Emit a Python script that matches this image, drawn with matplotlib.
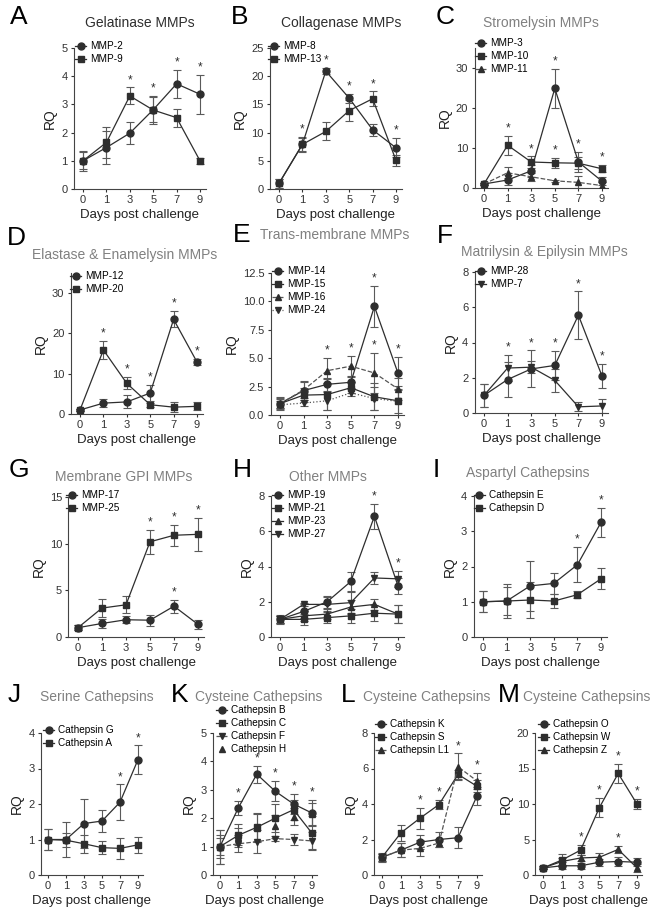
import matplotlib
matplotlib.use('Agg')
import matplotlib.pyplot as plt

plt.rcParams['font.family'] = ['Liberation Sans', 'DejaVu Sans']

days = ['0', '1', '3', '5', '7', '9']

# A - Gelatinase
a_mmp2 = [1.0, 1.47, 1.98, 2.81, 3.73, 3.36]
a_mmp2_err = [0.35, 0.57, 0.4, 0.45, 0.5, 0.7]
a_mmp2_star = [7, 9]
a_mmp9 = [1.0, 1.65, 3.3, 2.8, 2.53, 1.0]
a_mmp9_err = [0.3, 0.55, 0.3, 0.5, 0.32, 0.1]
a_mmp9_star = [3, 5]

# B - Collagenase
b_mmp8 = [1.0, 7.9, 20.9, 16.1, 10.5, 7.3]
b_mmp8_err = [0.8, 1.3, 0.5, 0.8, 1.1, 1.7]
b_mmp8_star = [1, 3, 5, 9]
b_mmp13 = [1.0, 7.9, 10.2, 13.9, 16.0, 5.1]
b_mmp13_err = [0.8, 1.2, 1.6, 1.8, 1.3, 1.0]
b_mmp13_star = [7]

# C - Stromelysin
c_mmp3 = [1.0, 2.0, 4.3, 24.9, 6.5, 1.7]
c_mmp3_err = [0.3, 1.2, 1.5, 4.9, 2.5, 1.0]
c_mmp3_star = [5, 7]
c_mmp10 = [1.0, 10.7, 6.5, 6.3, 6.2, 4.8]
c_mmp10_err = [0.3, 2.4, 1.4, 1.3, 1.5, 0.9]
c_mmp10_star = [1, 3, 5, 9]
c_mmp11 = [1.0, 3.8, 2.8, 1.8, 1.4, 0.6]
c_mmp11_err = [0.3, 1.4, 1.0, 0.3, 1.5, 0.8]

# D - Elastase & Enamelysin
d_mmp12 = [1.0, 2.7, 3.0, 5.2, 23.5, 12.9]
d_mmp12_err = [0.3, 1.0, 1.6, 2.0, 2.0, 0.8]
d_mmp12_star = [5, 7, 9]
d_mmp20 = [1.0, 15.9, 7.6, 2.3, 1.7, 1.9]
d_mmp20_err = [0.3, 2.3, 1.5, 0.5, 1.2, 1.0]
d_mmp20_star = [1, 3]

# E - Trans-membrane
e_mmp14 = [1.0, 2.15, 2.7, 2.88, 9.56, 3.68]
e_mmp14_err = [0.5, 0.8, 0.6, 0.5, 1.8, 1.4]
e_mmp14_star = [7, 9]
e_mmp15 = [1.0, 1.75, 1.8, 2.4, 1.6, 1.25]
e_mmp15_err = [0.6, 0.6, 1.4, 0.5, 1.2, 1.3]
e_mmp16 = [1.0, 2.2, 3.9, 4.3, 3.7, 2.3]
e_mmp16_err = [0.4, 0.7, 1.1, 0.9, 1.8, 1.0]
e_mmp16_star = [3, 5, 7]
e_mmp24 = [0.9, 1.05, 1.25, 1.95, 1.45, 1.2]
e_mmp24_err = [0.3, 0.3, 0.8, 0.3, 1.0, 1.0]

# F - Matrilysin & Epilysin
f_mmp28 = [1.0, 1.9, 2.5, 2.7, 5.55, 2.1]
f_mmp28_err = [0.65, 1.0, 1.05, 0.8, 1.35, 0.7]
f_mmp28_star = [3, 5, 7, 9]
f_mmp7 = [1.0, 2.55, 2.6, 1.85, 0.35, 0.4]
f_mmp7_err = [0.65, 0.75, 0.35, 0.65, 0.25, 0.4]
f_mmp7_star = [1]

# G - Membrane GPI
g_mmp17 = [1.0, 1.45, 1.85, 1.8, 3.3, 1.35]
g_mmp17_err = [0.3, 0.5, 0.4, 0.6, 0.7, 0.5]
g_mmp17_star = [7]
g_mmp25 = [1.0, 3.1, 3.45, 10.2, 10.9, 11.0]
g_mmp25_err = [0.3, 1.0, 0.9, 1.3, 1.1, 1.8]
g_mmp25_star = [5, 7, 9]

# H - Other
h_mmp19 = [1.0, 1.45, 2.0, 3.15, 6.85, 2.9]
h_mmp19_err = [0.2, 0.4, 0.35, 0.55, 0.7, 0.45]
h_mmp19_star = [7]
h_mmp21 = [1.0, 1.0, 1.1, 1.2, 1.35, 1.3]
h_mmp21_err = [0.2, 0.3, 0.3, 0.4, 0.45, 0.5]
h_mmp23 = [1.0, 1.2, 1.3, 1.7, 1.85, 1.3]
h_mmp23_err = [0.2, 0.3, 0.3, 0.4, 0.3, 0.5]
h_mmp27 = [1.0, 1.85, 1.85, 1.95, 3.35, 3.3]
h_mmp27_err = [0.25, 0.1, 0.4, 0.6, 0.35, 0.45]
h_mmp27_star = [9]

# I - Aspartyl cathepsins
i_cate = [1.0, 1.02, 1.45, 1.52, 2.05, 3.25]
i_cate_err = [0.3, 0.48, 0.7, 0.3, 0.5, 0.4]
i_cate_star = [7, 9]
i_catd = [1.0, 1.02, 1.05, 1.02, 1.2, 1.65]
i_catd_err = [0.3, 0.4, 0.5, 0.2, 0.1, 0.3]

# J - Serine cathepsins
j_catg = [1.0, 1.0, 1.45, 1.52, 2.05, 3.25]
j_catg_err = [0.3, 0.5, 0.7, 0.3, 0.5, 0.4]
j_catg_star = [7, 9]
j_cata = [1.0, 0.98, 0.88, 0.77, 0.75, 0.85]
j_cata_err = [0.3, 0.2, 0.25, 0.18, 0.3, 0.22]

# K - Cysteine cathepsins
k_catb = [1.0, 2.37, 3.55, 2.95, 2.5, 2.18]
k_catb_err = [0.6, 0.25, 0.3, 0.35, 0.35, 0.45]
k_catb_star = [1, 3, 5, 7, 9]
k_catc = [1.0, 1.4, 1.68, 2.0, 2.3, 1.47]
k_catc_err = [0.6, 0.4, 0.5, 0.5, 0.35, 0.6]
k_catf = [1.0, 1.1, 1.17, 1.28, 1.25, 1.2]
k_catf_err = [0.3, 0.3, 0.4, 0.1, 0.2, 0.3]
k_cath = [1.0, 1.35, 1.65, 1.72, 2.05, 2.15]
k_cath_err = [0.4, 0.3, 0.5, 0.4, 0.3, 0.4]

# L - Cysteine cathepsins
l_catk = [1.0, 1.4, 1.85, 2.0, 2.1, 4.45]
l_catk_err = [0.2, 0.4, 0.4, 0.45, 0.6, 0.5]
l_cats = [1.0, 2.38, 3.2, 3.97, 5.67, 5.0]
l_cats_err = [0.25, 0.45, 0.6, 0.25, 0.25, 0.35]
l_cats_star = [3, 5]
l_catl1 = [1.0, 1.4, 1.5, 1.8, 6.1, 5.3]
l_catl1_err = [0.2, 0.4, 0.45, 0.25, 0.75, 0.45]
l_catl1_star = [7, 9]

# M - Cysteine cathepsins
m_cato = [1.0, 1.3, 1.3, 1.8, 1.9, 1.8]
m_cato_err = [0.2, 0.5, 0.4, 0.5, 0.7, 0.6]
m_catw = [1.0, 2.1, 3.5, 9.5, 14.3, 10.0]
m_catw_err = [0.2, 0.8, 0.7, 1.3, 1.4, 0.7]
m_catw_star = [3, 5, 7, 9]
m_catz = [1.0, 1.9, 2.4, 2.5, 3.6, 1.0]
m_catz_err = [0.2, 0.5, 0.4, 0.6, 0.5, 0.6]
m_catz_star = [7]

W, H = 666, 916
DARK = '#2e2e2e'
GREY = '#808080'

fig = plt.figure(figsize=(W / 100, H / 100), dpi=100)


def box(t0, t9, top, bottom):
    # axes box from the pixel positions of tick "0" and tick "9"
    step = (t9 - t0) / 5
    left = t0 - 0.4 * step
    right = t9 + 0.25 * step
    return [left / W, 1 - bottom / H, (right - left) / W, (bottom - top) / H]


# (label, values, errors, marker, linestyle, stars)
panels = [
    dict(letter='A', lxy=(10, 17), title='Gelatinase MMPs', txy=(85, 23), tcol=DARK,
         ticks=(83, 200, 48, 189), ylim=5, yticks=[0, 1, 2, 3, 4, 5], leg=(75, 41),
         series=[('MMP-2', a_mmp2, a_mmp2_err, 'o', '-', a_mmp2_star),
                 ('MMP-9', a_mmp9, a_mmp9_err, 's', '-', a_mmp9_star)]),
    dict(letter='B', lxy=(231, 17), title='Collagenase MMPs', txy=(281, 23), tcol=DARK,
         ticks=(279, 396, 48, 189), ylim=25, yticks=[0, 5, 10, 15, 20, 25], leg=(268, 41),
         series=[('MMP-8', b_mmp8, b_mmp8_err, 'o', '-', b_mmp8_star),
                 ('MMP-13', b_mmp13, b_mmp13_err, 's', '-', b_mmp13_star)]),
    dict(letter='C', lxy=(436, 17), title='Stromelysin MMPs', txy=(483, 23), tcol=GREY,
         ticks=(484, 602, 48, 188), ylim=35, yticks=[0, 10, 20, 30], leg=(475, 38),
         series=[('MMP-3', c_mmp3, c_mmp3_err, 'o', '-', c_mmp3_star),
                 ('MMP-10', c_mmp10, c_mmp10_err, 's', '-', c_mmp10_star),
                 ('MMP-11', c_mmp11, c_mmp11_err, '^', '--', [])]),
    dict(letter='D', lxy=(7, 238), title='Elastase & Enamelysin MMPs', txy=(32, 255), tcol=GREY,
         ticks=(80, 197, 273, 414), ylim=35, yticks=[0, 10, 20, 30], leg=(70, 271),
         series=[('MMP-12', d_mmp12, d_mmp12_err, 'o', '-', d_mmp12_star),
                 ('MMP-20', d_mmp20, d_mmp20_err, 's', '-', d_mmp20_star)]),
    dict(letter='E', lxy=(233, 235), title='Trans-membrane MMPs', txy=(260, 235), tcol=GREY,
         ticks=(280, 398, 273, 415), ylim=12.5, yticks=[0, 2.5, 5, 7.5, 10, 12.5],
         yfmt='{:.1f}', leg=(272, 266),
         series=[('MMP-14', e_mmp14, e_mmp14_err, 'o', '-', e_mmp14_star),
                 ('MMP-15', e_mmp15, e_mmp15_err, 's', '-', []),
                 ('MMP-16', e_mmp16, e_mmp16_err, '^', '--', e_mmp16_star),
                 ('MMP-24', e_mmp24, e_mmp24_err, 'v', ':', [])]),
    dict(letter='F', lxy=(437, 236), title='Matrilysin & Epilysin MMPs', txy=(461, 252), tcol=GREY,
         ticks=(484, 602, 272, 413), ylim=8, yticks=[0, 2, 4, 6, 8], leg=(475, 266),
         series=[('MMP-28', f_mmp28, f_mmp28_err, 'o', '-', f_mmp28_star),
                 ('MMP-7', f_mmp7, f_mmp7_err, 'v', '-', f_mmp7_star)]),
    dict(letter='G', lxy=(9, 470), title='Membrane GPI MMPs', txy=(55, 477), tcol=GREY,
         ticks=(78, 198, 497, 637), ylim=15, yticks=[0, 5, 10, 15], leg=(66, 490),
         series=[('MMP-17', g_mmp17, g_mmp17_err, 'o', '-', g_mmp17_star),
                 ('MMP-25', g_mmp25, g_mmp25_err, 's', '-', g_mmp25_star)]),
    dict(letter='H', lxy=(233, 470), title='Other MMPs', txy=(289, 477), tcol=GREY,
         ticks=(280, 398, 496, 637), ylim=8, yticks=[0, 2, 4, 6, 8], leg=(272, 490),
         series=[('MMP-19', h_mmp19, h_mmp19_err, 'o', '-', h_mmp19_star),
                 ('MMP-21', h_mmp21, h_mmp21_err, 's', '-', []),
                 ('MMP-23', h_mmp23, h_mmp23_err, '^', '-', []),
                 ('MMP-27', h_mmp27, h_mmp27_err, 'v', '-', h_mmp27_star)]),
    dict(letter='I', lxy=(433, 470), title='Aspartyl Cathepsins', txy=(466, 473), tcol=GREY,
         ticks=(483, 601, 496, 637), ylim=4, yticks=[0, 1, 2, 3, 4], leg=(474, 490),
         series=[('Cathepsin E', i_cate, i_cate_err, 'o', '-', i_cate_star),
                 ('Cathepsin D', i_catd, i_catd_err, 's', '-', [])]),
    dict(letter='J', lxy=(8, 695), title='Serine Cathepsins', txy=(40, 697), tcol=GREY,
         ticks=(48, 138, 733, 875), ylim=4, yticks=[0, 1, 2, 3, 4], leg=(43, 725),
         series=[('Cathepsin G', j_catg, j_catg_err, 'o', '-', j_catg_star),
                 ('Cathepsin A', j_cata, j_cata_err, 's', '-', [])]),
    dict(letter='K', lxy=(171, 695), title='Cysteine Cathepsins', txy=(195, 697), tcol=GREY,
         ticks=(220, 312, 733, 875), ylim=5, yticks=[0, 1, 2, 3, 4, 5], leg=(216, 705),
         series=[('Cathepsin B', k_catb, k_catb_err, 'o', '-', k_catb_star),
                 ('Cathepsin C', k_catc, k_catc_err, 's', '-', []),
                 ('Cathepsin F', k_catf, k_catf_err, 'v', '--', []),
                 ('Cathepsin H', k_cath, k_cath_err, '^', 'none', [])]),
    dict(letter='L', lxy=(341, 695), title='Cysteine Cathepsins', txy=(363, 697), tcol=GREY,
         ticks=(382, 477, 733, 875), ylim=8, yticks=[0, 2, 4, 6, 8], leg=(375, 719),
         series=[('Cathepsin K', l_catk, l_catk_err, 'o', '-', []),
                 ('Cathepsin S', l_cats, l_cats_err, 's', '-', l_cats_star),
                 ('Cathepsin L1', l_catl1, l_catl1_err, '^', '--', l_catl1_star)]),
    dict(letter='M', lxy=(498, 695), title='Cysteine Cathepsins', txy=(523, 697), tcol=GREY,
         ticks=(543, 637, 733, 875), ylim=20, yticks=[0, 5, 10, 15, 20], leg=(538, 719),
         series=[('Cathepsin O', m_cato, m_cato_err, 'o', '-', []),
                 ('Cathepsin W', m_catw, m_catw_err, 's', '-', m_catw_star),
                 ('Cathepsin Z', m_catz, m_catz_err, '^', '-', m_catz_star)]),
]

x = list(range(len(days)))

for p in panels:
    ax = fig.add_axes(box(*p['ticks']))
    top = p['ylim']
    for label, vals, errs, mk, ls, stars in p['series']:
        lcol = DARK if ls in ('-', 'none') else '#555555'
        ax.errorbar(x, vals, yerr=errs, fmt='none', ecolor='#5a5a5a', elinewidth=0.8,
                    capsize=2.6, capthick=0.8, zorder=2)
        ax.plot(x, vals, linestyle=ls, color=lcol, linewidth=0.9, marker=mk,
                markersize=5, markerfacecolor=DARK, markeredgecolor=DARK,
                label=label, zorder=3)
        for d in stars:
            i = days.index(str(d))
            ax.text(x[i], vals[i] + errs[i] + 0.01 * top, '*', ha='center', va='bottom',
                    fontsize=8.5, color=DARK)
    ax.set_xlim(-0.4, 5.25)
    ax.set_ylim(0, top)
    ax.set_xticks(x)
    ax.set_xticklabels(days)
    ax.set_yticks(p['yticks'])
    fmt = p.get('yfmt', '{:g}')
    ax.set_yticklabels([fmt.format(v) for v in p['yticks']])
    ax.tick_params(labelsize=8, colors='#333333', length=2.5, width=0.8, pad=2)
    for s in ('top', 'right'):
        ax.spines[s].set_visible(False)
    for s in ('left', 'bottom'):
        ax.spines[s].set_color('#444444')
        ax.spines[s].set_linewidth(0.8)
    ax.set_xlabel('Days post challenge', fontsize=9.5, color='#222222', labelpad=3)
    ax.set_ylabel('RQ', fontsize=10, color='#222222', labelpad=3)
    lx, ly = p['leg']
    ax.legend(loc='upper left', bbox_to_anchor=(lx / W, 1 - ly / H),
              bbox_transform=fig.transFigure, frameon=False, fontsize=7.2,
              handlelength=1.1, handletextpad=0.4, labelspacing=0.3,
              borderpad=0, borderaxespad=0)
    fig.text(p['lxy'][0] / W, 1 - p['lxy'][1] / H, p['letter'], fontsize=19,
             ha='left', va='center', color='black')
    fig.text(p['txy'][0] / W, 1 - p['txy'][1] / H, p['title'], fontsize=10,
             ha='left', va='center', color=p['tcol'])

fig.savefig('out.png', dpi=100)
